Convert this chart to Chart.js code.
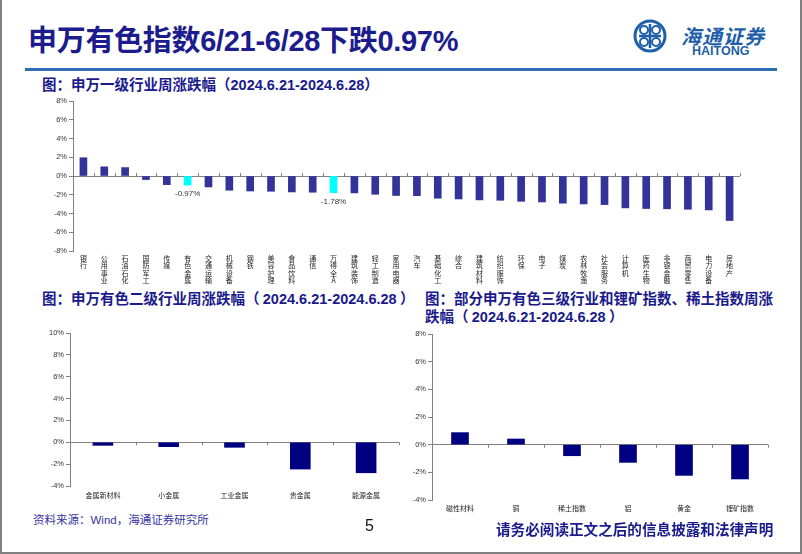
<!DOCTYPE html>
<html lang="zh">
<head>
<meta charset="UTF-8">
<title>申万有色指数周涨跌幅</title>
<style>
    body {
        margin: 0;
        background: #fff;
        font-family: "Noto Sans CJK SC", Arial, sans-serif;
    }
    #page {
        position: relative;
        width: 802px;
        height: 554px;
        box-sizing: border-box;
        border-left: 2px solid #808080;
        border-right: 2px solid #808080;
        border-bottom: 2px solid #808080;
        overflow: hidden;
    }
    .abs { position: absolute; white-space: nowrap; }
    #title {
        left: 26px; top: 17px;
        font-size: 29px; font-weight: bold;
        color: #1c1c8c;
        font-family: Arial, "Noto Sans CJK SC", sans-serif;
        letter-spacing: -0.3px;
    }
    #rule {
        left: 23px; top: 68px; width: 752px; height: 3px;
        background: #2f6db3;
    }
    .sub {
        font-size: 14.5px; font-weight: bold; color: #1a1a8c;
        font-family: "Noto Sans CJK SC", Arial, sans-serif;
        line-height: 18px;
    }
    .sub b { font-family: Arial, sans-serif; }
    #source { left: 31px; top: 511px; font-size: 11.5px; color: #3535a5; }
    #pageno { left: 363px; top: 517px; font-size: 16px; font-family: Arial, sans-serif; color: #111; }
    #notice { left: 494px; top: 518px; font-size: 14.6px; font-weight: bold; color: #1a1a8c; }
    #logoText { left: 679px; top: 21px; font-size: 20px; color: #1f5fa8; font-style: italic; font-weight: bold; letter-spacing: 1px; }
    #logoEn { left: 690px; top: 44px; font-size: 12.5px; color: #1f5fa8; font-weight: bold; font-family: Arial, sans-serif; }
    canvas { position: absolute; }
</style>
</head>
<body>
<div id="page">
    <div id="title" class="abs">申万有色指数6/21-6/28下跌0.97%</div>
    <svg class="abs" style="left:631px;top:19px" width="34" height="34" viewBox="0 0 34 34">
        <circle cx="17" cy="17" r="15" fill="none" stroke="#1f5fa8" stroke-width="3"/>
        <path d="M17 5 V29 M6 17 H28" stroke="#1f5fa8" stroke-width="2.5" fill="none"/>
        <circle cx="11" cy="11" r="4" fill="none" stroke="#1f5fa8" stroke-width="2"/>
        <circle cx="23" cy="11" r="4" fill="none" stroke="#1f5fa8" stroke-width="2"/>
        <circle cx="11" cy="23" r="4" fill="none" stroke="#1f5fa8" stroke-width="2"/>
        <circle cx="23" cy="23" r="4" fill="none" stroke="#1f5fa8" stroke-width="2"/>
    </svg>
    <div id="logoText" class="abs">海通证券</div>
    <div id="logoEn" class="abs">HAITONG</div>
    <div id="rule" class="abs"></div>

    <div class="abs sub" style="left:40px;top:75px">图：申万一级行业周涨跌幅（<b>2024.6.21-2024.6.28</b>）</div>
    <div class="abs sub" style="left:40px;top:289px">图：申万有色二级行业周涨跌幅（ <b>2024.6.21-2024.6.28</b> ）</div>
    <div class="abs sub" style="left:423px;top:289px">图：部分申万有色三级行业和锂矿指数、稀土指数周涨<br>跌幅（ <b>2024.6.21-2024.6.28</b> ）</div>

    <canvas id="chart1" width="705" height="204" style="left:40px;top:92px"></canvas>
    <canvas id="chart2" width="380" height="181" style="left:30px;top:325px"></canvas>
    <canvas id="chart3" width="385" height="190" style="left:395px;top:326px"></canvas>

    <div id="source" class="abs">资料来源：<span style="font-family:Arial">Wind</span>，海通证券研究所</div>
    <div id="pageno" class="abs">5</div>
    <div id="notice" class="abs">请务必阅读正文之后的信息披露和法律声明</div>
</div>

<script src="https://cdn.jsdelivr.net/npm/chart.js"></script>
<script>
    // 申万一级行业周涨跌幅 (%)
    var industries = ['银行', '公用事业', '石油石化', '国防军工', '传媒', '有色金属', '交通运输', '机械设备',
        '钢铁', '美容护理', '食品饮料', '通信', '万得全A', '建筑装饰', '轻工制造', '家用电器',
        '汽车', '基础化工', '综合', '建筑材料', '纺织服饰', '环保', '电子', '煤炭',
        '农林牧渔', '社会服务', '计算机', '医药生物', '非银金融', '商贸零售', '电力设备', '房地产'];
    var industryChange = [1.95, 0.98, 0.9, -0.38, -0.92, -0.97, -1.17, -1.52,
        -1.6, -1.63, -1.7, -1.73, -1.78, -1.8, -1.95, -2.08,
        -2.1, -2.37, -2.45, -2.55, -2.59, -2.7, -2.77, -2.9,
        -2.98, -3.05, -3.4, -3.47, -3.5, -3.55, -3.62, -4.75];
    var highlighted = ['有色金属', '万得全A'];

    // 申万有色二级行业
    var subIndustries = ['金属新材料', '小金属', '工业金属', '贵金属', '能源金属'];
    var subChange = [-0.28, -0.4, -0.46, -2.45, -2.79];

    // 三级行业及锂矿、稀土指数
    var level3 = ['磁性材料', '铜', '稀土指数', '铝', '黄金', '锂矿指数'];
    var level3Change = [0.87, 0.41, -0.8, -1.28, -2.22, -2.48];

    var axisGray = '#808080';
    var tickFont = { family: 'Arial', size: 7.5 };

    // small tick marks on the zero line between categories
    var zeroTicks = {
        id: 'zeroTicks',
        afterDraw: function(chart, args, opts) {
            var x = chart.scales.x, y = chart.scales.y;
            var y0 = y.getPixelForValue(0);
            var dir = opts.up ? -1 : 1;
            var ctx = chart.ctx;
            ctx.save();
            ctx.strokeStyle = axisGray;
            ctx.lineWidth = 1;
            ctx.beginPath();
            for (var i = 0; i <= x.ticks.length; i++) {
                var px = Math.round(x.left + (x.right - x.left) * i / x.ticks.length) + 0.5;
                ctx.moveTo(px, y0);
                ctx.lineTo(px, y0 + dir * 3);
            }
            ctx.stroke();
            ctx.restore();
        }
    };

    // value labels under the highlighted bars
    var hiLabels = {
        id: 'hiLabels',
        afterDatasetsDraw: function(chart) {
            var meta = chart.getDatasetMeta(0);
            var ctx = chart.ctx;
            ctx.save();
            ctx.font = '8px Arial';
            ctx.fillStyle = '#333';
            ctx.textAlign = 'center';
            ctx.textBaseline = 'top';
            industries.forEach(function(name, i) {
                if (highlighted.indexOf(name) >= 0) {
                    var bar = meta.data[i];
                    ctx.fillText(industryChange[i].toFixed(2) + '%', bar.x, bar.y + 5);
                }
            });
            ctx.restore();
        }
    };

    function makeChart(id, labels, values, colors, cfg) {
        return new Chart(document.getElementById(id), {
            type: 'bar',
            data: {
                labels: labels,
                datasets: [{
                    data: values,
                    backgroundColor: colors,
                    barThickness: cfg.barWidth
                }]
            },
            options: {
                responsive: false,
                animation: false,
                layout: { padding: cfg.padding },
                plugins: {
                    legend: { display: false },
                    tooltip: { enabled: false },
                    zeroTicks: { up: cfg.ticksUp }
                },
                scales: {
                    x: {
                        grid: { display: false, drawTicks: false },
                        border: { display: false },
                        ticks: {
                            autoSkip: false, maxRotation: 0, minRotation: 0,
                            padding: cfg.labelPad,
                            color: '#222',
                            font: cfg.labelFont
                        },
                        afterFit: function(scale) { scale.height = cfg.xHeight; }
                    },
                    y: {
                        min: cfg.min, max: cfg.max,
                        grid: {
                            drawOnChartArea: true,
                            drawTicks: true,
                            tickLength: 4,
                            tickColor: axisGray,
                            color: function(c) { return c.tick && c.tick.value === 0 ? axisGray : 'rgba(0,0,0,0)'; }
                        },
                        border: { color: axisGray },
                        ticks: {
                            stepSize: 2,
                            padding: 2,
                            color: '#333',
                            font: tickFont,
                            callback: function(v) { return v + '%'; }
                        },
                        afterFit: function(scale) { scale.width = cfg.yWidth; }
                    }
                }
            },
            plugins: [zeroTicks].concat(cfg.extra || [])
        });
    }

    // vertical category names: one character per line
    makeChart('chart1',
        industries.map(function(s) { return s.split(''); }),
        industryChange,
        industries.map(function(s) { return highlighted.indexOf(s) >= 0 ? '#00ffff' : '#333399'; }),
        { barWidth: 7, padding: { top: 9, right: 7, left: 0, bottom: 0 }, yWidth: 31, xHeight: 45, labelPad: 4,
          labelFont: { family: '"Noto Sans CJK SC", sans-serif', size: 7, lineHeight: '7.2px' },
          min: -8, max: 8, ticksUp: true, extra: [hiLabels] });

    makeChart('chart2', subIndustries, subChange, '#000080',
        { barWidth: 20, padding: { top: 8, right: 13, left: 0, bottom: 0 }, yWidth: 38, xHeight: 20, labelPad: 5,
          labelFont: { family: '"Noto Sans CJK SC", sans-serif', size: 7, lineHeight: 1.1 },
          min: -4, max: 10, ticksUp: false });

    makeChart('chart3', level3, level3Change, '#000080',
        { barWidth: 17, padding: { top: 8, right: 14, left: 0, bottom: 0 }, yWidth: 35, xHeight: 16, labelPad: 4,
          labelFont: { family: '"Noto Sans CJK SC", sans-serif', size: 7, lineHeight: 1.1 },
          min: -4, max: 8, ticksUp: false });
</script>
</body>
</html>
